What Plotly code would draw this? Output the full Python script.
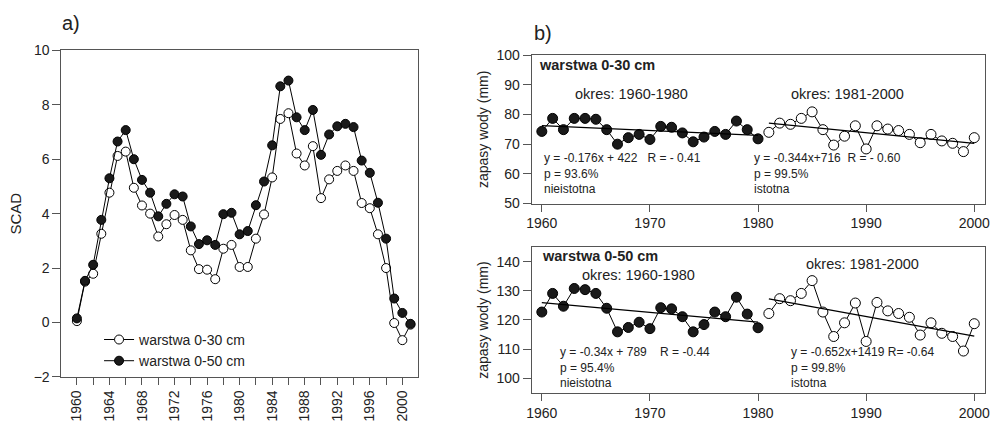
import numpy as np
import plotly.graph_objects as go

# ---------------- data ----------------
years_a = list(range(1960, 2002))
scad_030 = [0.05, 1.50, 1.79, 3.26, 4.77, 6.12, 6.28, 4.95, 4.30, 4.00,
            3.16, 3.61, 3.95, 3.77, 2.65, 1.96, 1.94, 1.59, 2.71, 2.85,
            2.04, 2.04, 3.08, 3.97, 5.33, 7.48, 7.69, 6.21, 5.77, 6.48,
            4.57, 5.26, 5.57, 5.77, 5.57, 4.39, 4.20, 3.24, 2.00, -0.02,
            -0.65, -0.08]
scad_050 = [0.15, 1.53, 2.12, 3.77, 5.30, 6.65, 7.07, 6.00, 5.24, 4.77,
            3.90, 4.36, 4.71, 4.63, 3.53, 2.88, 3.02, 2.85, 3.98, 4.03,
            3.24, 3.36, 4.31, 5.18, 6.51, 8.68, 8.89, 7.54, 7.07, 7.81,
            6.16, 6.91, 7.21, 7.30, 7.18, 5.95, 5.50, 4.40, 3.08, 0.88,
            0.35, -0.05]

years_p1 = list(range(1960, 1981))
years_p2 = list(range(1981, 2001))
w030_p1 = [74.3, 78.7, 74.9, 78.7, 78.7, 78.4, 74.9, 70.0, 72.2, 73.3, 71.6,
           76.0, 75.7, 73.8, 70.8, 72.4, 74.3, 73.3, 77.8, 74.9, 71.8]
w030_p2 = [74.0, 77.1, 76.7, 78.7, 80.9, 74.9, 69.7, 72.7, 76.2, 68.4,
           76.2, 75.1, 74.6, 73.3, 70.5, 73.3, 71.1, 70.3, 67.5, 72.2]
w050_p1 = [122.7, 129.1, 124.7, 130.8, 130.4, 129.1, 124.0, 115.9, 117.4, 119.2, 117.0,
           124.2, 123.8, 121.1, 115.9, 118.4, 122.7, 121.1, 127.8, 122.0, 117.3]
w050_p2 = [122.2, 127.3, 126.6, 129.1, 133.5, 122.7, 114.3, 119.0, 125.8, 112.6,
           126.0, 123.1, 122.2, 120.9, 114.8, 119.0, 115.4, 114.3, 109.3, 118.7]

legend_names = ["warstwa 0-30 cm", "warstwa 0-50 cm"]

FONT = "Liberation Sans"
TXT = "#222222"
AX = "#555555"

fig = go.Figure()

# ---------------- panel a ----------------
fig.add_trace(go.Scatter(
    x=years_a, y=scad_030, mode="lines+markers", name=legend_names[0],
    line=dict(color="black", width=1),
    marker=dict(symbol="circle", size=9, color="white", line=dict(color="black", width=1)),
    xaxis="x", yaxis="y"))
fig.add_trace(go.Scatter(
    x=years_a, y=scad_050, mode="lines+markers", name=legend_names[1],
    line=dict(color="black", width=1),
    marker=dict(symbol="circle", size=9, color="#1a1a1a", line=dict(color="black", width=1)),
    xaxis="x", yaxis="y"))


def add_series(xs, ys, filled, xa, ya):
    fig.add_trace(go.Scatter(
        x=xs, y=ys, mode="lines+markers", showlegend=False,
        line=dict(color="black", width=1),
        marker=dict(symbol="circle", size=10,
                    color="#1a1a1a" if filled else "white",
                    line=dict(color="black", width=1)),
        xaxis=xa, yaxis=ya))
    slope, icpt = np.polyfit(xs, ys, 1)
    fx = [xs[0], xs[-1]]
    fig.add_trace(go.Scatter(
        x=fx, y=[slope * v + icpt for v in fx], mode="lines", showlegend=False,
        line=dict(color="black", width=1.3), xaxis=xa, yaxis=ya))


add_series(years_p1, w030_p1, True, "x2", "y2")
add_series(years_p2, w030_p2, False, "x2", "y2")
add_series(years_p1, w050_p1, True, "x3", "y3")
add_series(years_p2, w050_p2, False, "x3", "y3")

W, H = 997, 434
def px(x):
    return x / W
def py(y):
    return 1 - y / H

tick_a = list(range(1960, 2001, 2))
tick_a_txt = [str(v) if v % 4 == 0 else "" for v in tick_a]

axis_common = dict(showline=True, linecolor=AX, linewidth=1, mirror=True,
                   showgrid=False, zeroline=False, ticks="outside",
                   tickcolor=AX, tickfont=dict(family=FONT, size=14, color=TXT))

fig.update_layout(
    width=W, height=H, margin=dict(l=0, r=0, t=0, b=0),
    paper_bgcolor="white", plot_bgcolor="white",
    font=dict(family=FONT, color=TXT),
    xaxis=dict(domain=[px(57), px(417)], range=[1958.1, 2001.9],
               tickmode="array", tickvals=tick_a, ticktext=tick_a_txt,
               tickangle=-90, ticklen=7, anchor="y", **axis_common),
    yaxis=dict(domain=[py(383), py(44)], range=[-2, 10], dtick=2, ticklen=8,
               title=dict(text="SCAD", font=dict(size=15, family=FONT, color=TXT), standoff=8),
               anchor="x", **axis_common),
    xaxis2=dict(domain=[px(532), px(990)], range=[1959.06, 2001.0], dtick=10,
                tick0=1960, ticklen=7, anchor="y2", **axis_common),
    yaxis2=dict(domain=[py(203), py(49)], range=[50, 100], dtick=10, ticklen=8,
                title=dict(text="zapasy wody (mm)", font=dict(size=14, family=FONT, color=TXT), standoff=4),
                anchor="x2", **axis_common),
    xaxis3=dict(domain=[px(532), px(990)], range=[1959.06, 2001.0], dtick=10,
                tick0=1960, ticklen=7, anchor="y3", **axis_common),
    yaxis3=dict(domain=[py(400), py(248)], range=[94.8, 145.1], dtick=10, ticklen=8,
                title=dict(text="zapasy wody (mm)", font=dict(size=14, family=FONT, color=TXT), standoff=4),
                anchor="x3", **axis_common),
    legend=dict(x=px(95), y=py(328), xanchor="left", yanchor="top",
                bgcolor="rgba(0,0,0,0)", font=dict(family=FONT, size=14, color=TXT),
                itemwidth=30, tracegroupgap=0),
    showlegend=True,
)

annots = []
def ann(text, x, y, size=14, anchor="left", bold=False, yanchor="middle"):
    annots.append(dict(text=f"<b>{text}</b>" if bold else text,
                       x=px(x), y=py(y), xref="paper", yref="paper",
                       xanchor=anchor, yanchor=yanchor, showarrow=False,
                       align="left",
                       font=dict(family=FONT, size=size, color=TXT)))

ann("a)", 56, 16, size=20)
ann("b)", 532, 26, size=20)

ann("warstwa 0-30 cm", 537, 59, size=14.5, bold=True)
ann("okres: 1960-1980", 633, 89, size=14.5, anchor="center")
ann("okres: 1981-2000", 851, 89, size=14.5, anchor="center")
ann("y = -0.176x + 422   R = - 0.41<br>p = 93.6%<br>nieistotna", 542, 146, size=12, yanchor="top")
ann("y = -0.344x+716  R = - 0.60<br>p = 99.5%<br>istotna", 755, 146, size=12, yanchor="top")

ann("warstwa 0-50 cm", 540, 257, size=14.5, bold=True)
ann("okres: 1960-1980", 640, 277, size=14.5, anchor="center")
ann("okres: 1981-2000", 866, 266, size=14.5, anchor="center")
ann("y = -0.34x + 789    R = -0.44<br>p = 95.4%<br>nieistotna", 559, 348, size=12, yanchor="top")
ann("y = -0.652x+1419 R= -0.64<br>p = 99.8%<br>istotna", 792, 348, size=12, yanchor="top")

fig.update_layout(annotations=annots)

fig.write_html("out.html")
